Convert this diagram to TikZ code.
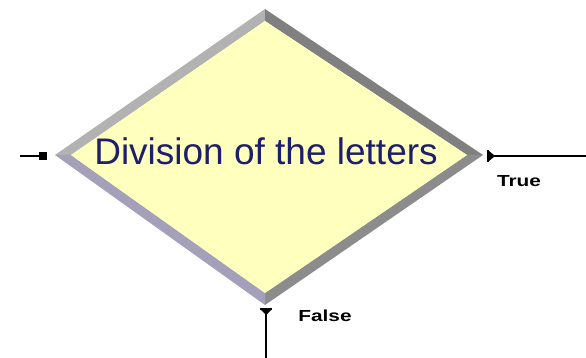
\documentclass[tikz,border=0pt]{standalone}
\usepackage{fontspec}
\setmainfont{Liberation Sans}
\begin{document}
\begin{tikzpicture}[x=1pt,y=-1pt,
  conn/.style={line width=1.6pt,black},
  lbl/.style={font=\bfseries\fontsize{16}{18}\selectfont,inner sep=0pt,xscale=1.3},
  title/.style={font=\fontsize{37}{40}\selectfont,text={rgb,255:red,30;green,30;blue,110},inner sep=0pt}]
\useasboundingbox (0,0) rectangle (586,358);
% outer and inner vertices
\coordinate (oL) at (55,155); \coordinate (oT) at (265,9);
\coordinate (oR) at (483,155); \coordinate (oB) at (265,305);
\coordinate (iL) at (71,155); \coordinate (iT) at (265,21);
\coordinate (iR) at (467,155); \coordinate (iB) at (265,293);
% border segments
\fill[color={rgb,255:red,178;green,178;blue,178}] (oL) -- (oT) -- (iT) -- (iL) -- cycle;
\fill[color={rgb,255:red,128;green,128;blue,128}] (oT) -- (oR) -- (iR) -- (iT) -- cycle;
\fill[color={rgb,255:red,140;green,140;blue,140}] (oR) -- (oB) -- (iB) -- (iR) -- cycle;
\fill[color={rgb,255:red,165;green,160;blue,185}] (oB) -- (oL) -- (iL) -- (iB) -- cycle;
% fill
\fill[color={rgb,255:red,255;green,255;blue,190}] (iL) -- (iT) -- (iR) -- (iB) -- cycle;
\node[title] (d) at (266,151) {Division of the letters};
% left connector
\coordinate (lin) at (20,156);
\node[fill=black,minimum size=8pt,inner sep=0pt] (lsq) at (43,156) {};
\draw[conn] (lin) -- (lsq);
% right connector
\coordinate (rout) at (586,156);
\coordinate (rm) at (488,156);
\fill[black] (487,150) rectangle (489,162);
\fill[black] (489,151) -- (495,156) -- (489,161) -- cycle;
\draw[conn] (rm) -- (rout);
\node[lbl] (t) at (519,181) {True};
% bottom connector
\coordinate (bm) at (266,309);
\coordinate (bout) at (266,358);
\fill[black] (260,308) rectangle (272,310);
\fill[black] (261,310) -- (266,315) -- (271,310) -- cycle;
\draw[conn] (bm) -- (bout);
\node[lbl] (f) at (325,316) {False};
\end{tikzpicture}
\end{document}
